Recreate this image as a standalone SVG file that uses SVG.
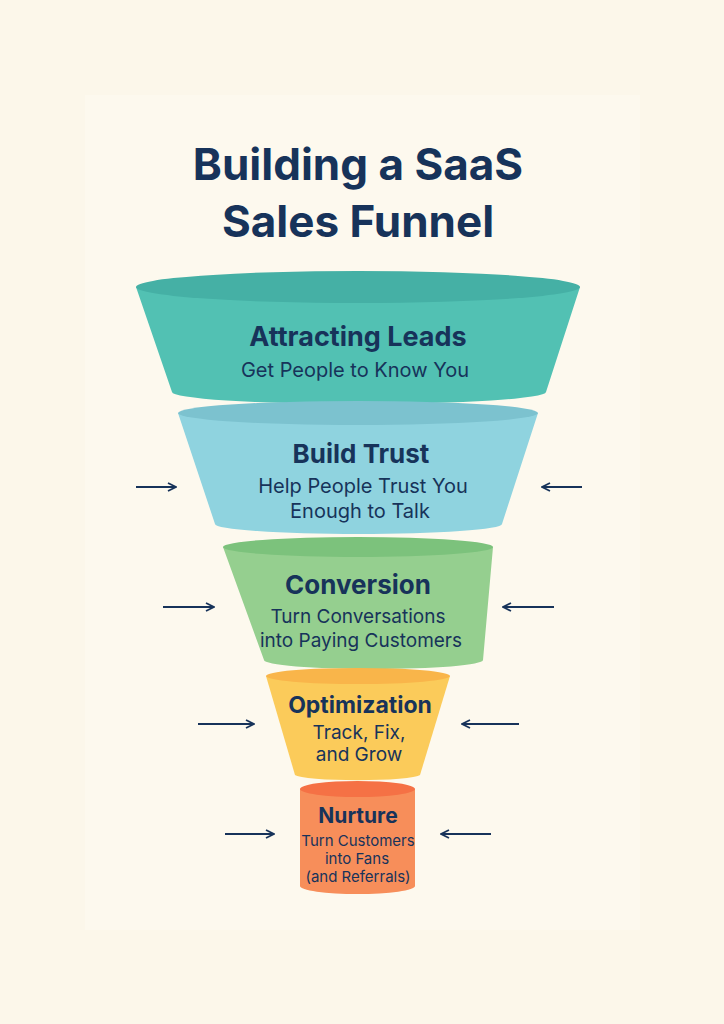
<svg xmlns="http://www.w3.org/2000/svg" width="724" height="1024" viewBox="0 0 724 1024">
<style>
text{font-family:Inter,"Noto Sans","Liberation Sans",sans-serif;fill:#17335a;text-anchor:middle}
.t{font-size:44px;font-weight:700}
.h{font-weight:700}
.ar{stroke:#17335a;stroke-width:2.2;fill:none}
</style>
<defs>
<marker id="ah" viewBox="0 0 10 10" refX="9" refY="5" markerWidth="10" markerHeight="10" markerUnits="userSpaceOnUse" orient="auto"><path d="M1,1 L9,5 L1,9" fill="none" stroke="#17335a" stroke-width="1.8"/></marker>
</defs>
<rect width="724" height="1024" fill="#fcf7ea"/>
<rect x="85" y="95" width="555" height="835" fill="#fdf9ee"/>
<text class="t" x="358" y="180">Building a SaaS</text>
<text class="t" x="358" y="237">Sales Funnel</text>
<g id="stage1">
<path d="M136,287 L172,392 A187,12 0 0 0 546,392 L580,287 Z" fill="#52c1b3"/>
<ellipse cx="358" cy="287" rx="222" ry="16" fill="#45b0a5"/>
<text class="h" x="358" y="346" font-size="27">Attracting Leads</text>
<text x="355" y="377" font-size="20">Get People to Know You</text>
</g>
<g id="stage2">
<path d="M178,413 L215,524 A143,10 0 0 0 502,524 L538,413 Z" fill="#8fd3df"/>
<ellipse cx="358" cy="413" rx="180" ry="12" fill="#7cc2cf"/>
<text class="h" x="361" y="463" font-size="26">Build Trust</text>
<text x="363" y="493" font-size="20">Help People Trust You</text>
<text x="360" y="518" font-size="20">Enough to Talk</text>
</g>
<g id="stage3">
<path d="M223,547 L264,660 A109,9 0 0 0 483,660 L493,547 Z" fill="#95cf8f"/>
<ellipse cx="358" cy="547" rx="135" ry="10" fill="#7cc27c"/>
<text class="h" x="358" y="594" font-size="26">Conversion</text>
<text x="358" y="623" font-size="19">Turn Conversations</text>
<text x="361" y="647" font-size="19">into Paying Customers</text>
</g>
<g id="stage4">
<path d="M266,676 L295,775 A63,6 0 0 0 420,775 L450,676 Z" fill="#fbcb5a"/>
<ellipse cx="358" cy="676" rx="92" ry="8" fill="#f9b54a"/>
<text class="h" x="360" y="713" font-size="23">Optimization</text>
<text x="359" y="739" font-size="19">Track, Fix,</text>
<text x="359" y="761" font-size="19">and Grow</text>
</g>
<g id="stage5">
<path d="M300,789 L300,886 A57,8 0 0 0 415,886 L415,789 Z" fill="#f78e5a"/>
<ellipse cx="357.5" cy="789" rx="57.5" ry="8" fill="#f57145"/>
<text class="h" x="358" y="823" font-size="21">Nurture</text>
<text x="358" y="846" font-size="15">Turn Customers</text>
<text x="357" y="864" font-size="15">into Fans</text>
<text x="358" y="882" font-size="15">(and Referrals)</text>
</g>
<g id="connectors">
<line class="ar" x1="136" y1="487" x2="176" y2="487" marker-end="url(#ah)"/>
<line class="ar" x1="582" y1="487" x2="542" y2="487" marker-end="url(#ah)"/>
<line class="ar" x1="163" y1="607" x2="214" y2="607" marker-end="url(#ah)"/>
<line class="ar" x1="554" y1="607" x2="503" y2="607" marker-end="url(#ah)"/>
<line class="ar" x1="198" y1="724" x2="254" y2="724" marker-end="url(#ah)"/>
<line class="ar" x1="519" y1="724" x2="462" y2="724" marker-end="url(#ah)"/>
<line class="ar" x1="225" y1="834" x2="274" y2="834" marker-end="url(#ah)"/>
<line class="ar" x1="491" y1="834" x2="441" y2="834" marker-end="url(#ah)"/>
</g>
</svg>
